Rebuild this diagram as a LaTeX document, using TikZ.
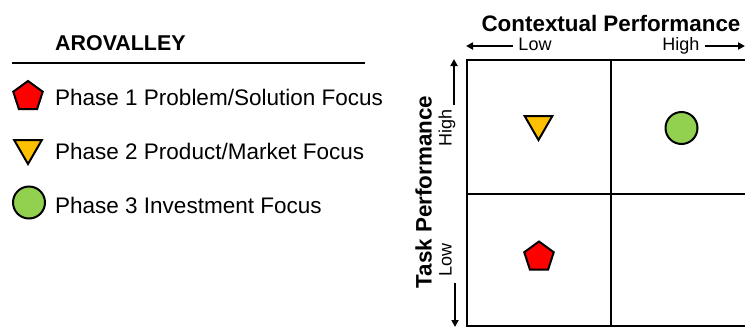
\documentclass[tikz,border=0pt]{standalone}
\usepackage{fontspec}
\setmainfont{Liberation Sans}
\usetikzlibrary{shapes.geometric,arrows.meta}
\definecolor{pentred}{HTML}{FF0000}
\definecolor{triyellow}{HTML}{FFC000}
\definecolor{circgreen}{HTML}{92D050}
\begin{document}
\begin{tikzpicture}[x=1pt,y=-1pt,
  mk/.style={draw=black,line width=2pt,inner sep=0pt},
  pent/.style={mk,regular polygon,regular polygon sides=5,minimum size=31pt,fill=pentred},
  tri/.style={mk,regular polygon,regular polygon sides=3,shape border rotate=180,minimum size=32pt,fill=triyellow},
  circ/.style={mk,circle,minimum size=32pt,fill=circgreen},
  legtext/.style={anchor=base west,inner sep=0pt,font=\fontsize{22.5}{27}\selectfont},
  legtitle/.style={anchor=base west,inner sep=0pt,font=\fontsize{21.4}{26}\selectfont\bfseries},
  axtitle/.style={anchor=base,inner sep=0pt,font=\fontsize{22.4}{27}\selectfont\bfseries},
  axlabel/.style={anchor=base,inner sep=0pt,font=\fontsize{18}{21}\selectfont},
  gridline/.style={line width=2.2pt},
  axarrow/.style={line width=2pt,-{Triangle[length=7pt,width=7pt]}}
]
\clip (0,0) rectangle (745,327);
\fill[white] (0,0) rectangle (745,327);

% legend
\node[legtitle] (legtitle) at (55,50) {AROVALLEY};
\coordinate (lineA) at (12,63);
\coordinate (lineB) at (365,63);
\draw[line width=1.6pt] (lineA) -- (lineB);
\node[pent] (legpent) at (28,96.5) {};
\node[tri] (legtri) at (28,148) {};
\node[circ] (legcirc) at (29,202.5) {};
\node[legtext] (leg1) at (55,105) {Phase 1 Problem/Solution Focus};
\node[legtext] (leg2) at (55,159) {Phase 2 Product/Market Focus};
\node[legtext] (leg3) at (55,213) {Phase 3 Investment Focus};

% grid
\draw[gridline] (467,60) rectangle (790,326);
\draw[gridline] (611,60) -- (611,326);
\draw[gridline] (467,194) -- (790,194);

% axis titles and labels
\node[axtitle] (ctitle) at (611,31) {Contextual Performance};
\node[axlabel] (xlow) at (535,50) {Low};
\node[axlabel] (xhigh) at (681,50) {High};
\node[axtitle,rotate=90] (ttitle) at (431.5,192) {Task Performance};
\node[axlabel,rotate=90] (yhigh) at (451.5,128) {High};
\node[axlabel,rotate=90] (ylow) at (451.5,260) {Low};

% axis arrows
\coordinate (xlowS) at (513,46);
\coordinate (xlowE) at (466,46);
\coordinate (xhighS) at (705,46);
\coordinate (xhighE) at (745,46);
\coordinate (yhighS) at (454,105);
\coordinate (yhighE) at (454,59);
\coordinate (ylowS) at (455,283);
\coordinate (ylowE) at (455,327);
\draw[axarrow] (xlowS) -- (xlowE);
\draw[axarrow] (xhighS) -- (xhighE);
\draw[axarrow] (yhighS) -- (yhighE);
\draw[axarrow] (ylowS) -- (ylowE);

% markers in quadrants
\node[tri] (qtri) at (538.5,124) {};
\node[circ] (qcirc) at (681.5,128) {};
\node[pent] (qpent) at (539,257) {};
\end{tikzpicture}
\end{document}
